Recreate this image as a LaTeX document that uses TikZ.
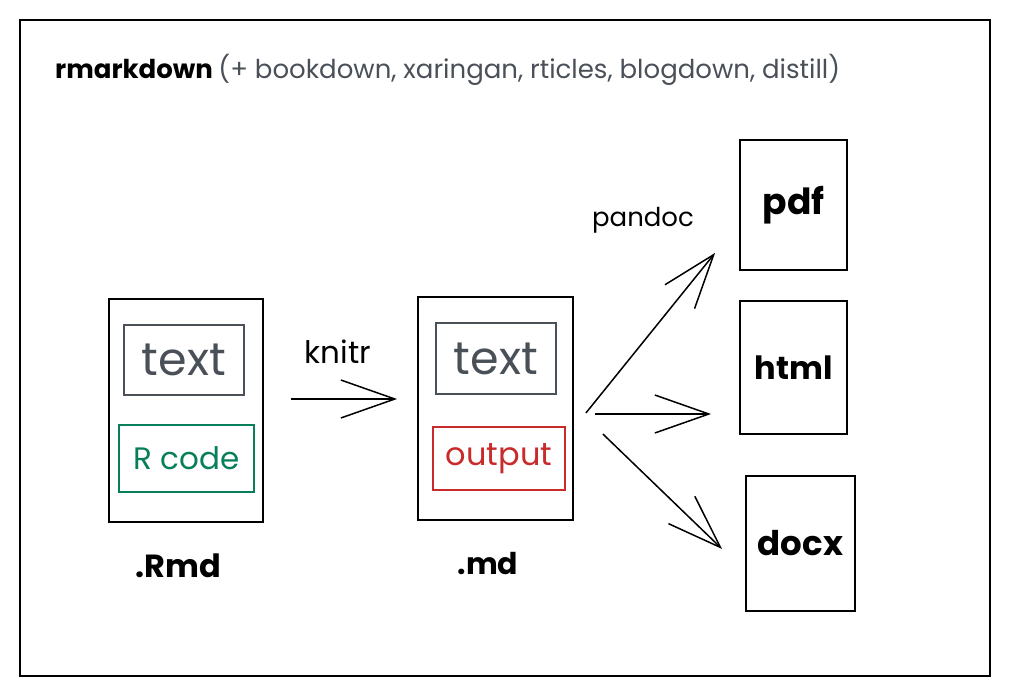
\documentclass[tikz,border=0pt]{standalone}
\usepackage{fontspec}
\setmainfont{Poppins}
\usetikzlibrary{arrows.meta}
\definecolor{inkgray}{HTML}{495057}
\definecolor{codegreen}{HTML}{087F5B}
\definecolor{outred}{HTML}{C92A2A}
\newcommand{\fsz}[1]{\fontsize{#1}{#1}\selectfont}
\tikzset{
  page/.style={draw=black, line width=1.8pt, inner sep=0pt},
  part/.style={draw=#1, text=#1, line width=1.6pt, inner sep=0pt},
  lbl/.style={inner sep=0pt, text=black},
  arr/.style={line width=1.5pt, -{Straight Barb[length=54pt, width=38pt, line width=1.5pt]}}
}

\begin{document}
\begin{tikzpicture}[x=1pt, y=-1pt]
	%%%%% START %%%%%
	\useasboundingbox (0,0) rectangle (1009,696);
	\draw[line width=1.4pt] (20,20) rectangle (990,676);
	
	\node[lbl, anchor=base west] (title) at (55,78) {\fsz{26}\bfseries rmarkdown \mdseries\color{inkgray}(+ bookdown, xaringan, rticles, blogdown, distill)};
	
	\node[page, minimum width=154pt, minimum height=223pt] (rmd) at (186,410.5) {};
	\node[part=inkgray, minimum width=120pt, minimum height=70pt] (rmdtext) at (184,360) {\fsz{46}text};
	\node[part=codegreen, minimum width=135pt, minimum height=67pt] (rcode) at (186.5,458.5) {\fsz{31}R code};
	\node[lbl] (rmdlbl) at (178,566) {\fsz{32}\bfseries .Rmd};
	
	\node[page, minimum width=155pt, minimum height=223pt] (md) at (495.5,408.5) {};
	\node[part=inkgray, minimum width=120pt, minimum height=71pt] (mdtext) at (496,358.5) {\fsz{46}text};
	\node[part=outred, minimum width=132pt, minimum height=63pt] (output) at (499,458.5) {\fsz{32}output};
	\node[lbl] (mdlbl) at (488,564) {\fsz{30}\bfseries .md};
	
	\node[page, minimum width=107pt, minimum height=130pt] (pdf) at (793.5,205) {\fsz{36}\bfseries pdf};
	\node[page, minimum width=107pt, minimum height=133pt] (html) at (793.5,367.5) {\fsz{32}\bfseries html};
	\node[page, minimum width=109pt, minimum height=135pt] (docx) at (800.5,543.5) {\fsz{34}\bfseries docx};
	
	\node[lbl] (knitr) at (338,352) {\fsz{31}knitr};
	\node[lbl] (pandoc) at (643,220) {\fsz{26}pandoc};
	
	\draw[arr] ([xshift=27pt, yshift=11.5pt]rmd.east) -- ([xshift=-20pt, yshift=9.5pt]md.west);
	\draw[arr] ([xshift=12pt, yshift=-4.5pt]md.east) -- ([xshift=-24pt, yshift=18pt]pdf.south west);
	\draw[arr] ([xshift=21pt, yshift=-5.5pt]md.east) -- ([xshift=-28pt, yshift=-46.5pt]html.west);
	\draw[arr] ([xshift=29pt, yshift=-25.5pt]md.east) -- ([xshift=-23pt, yshift=-5.5pt]docx.west);
	%%%%% END %%%%%
\end{tikzpicture}
\end{document}
